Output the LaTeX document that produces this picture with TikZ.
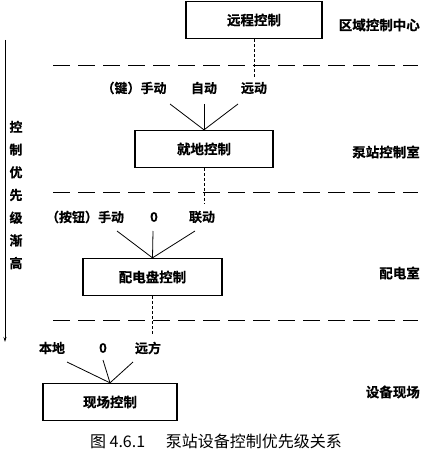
\documentclass[tikz,border=0pt]{standalone}
\usepackage{fontspec}
\setmainfont{Noto Sans CJK SC}
\newfontfamily\cjkbold{Noto Sans CJK SC Bold}[FakeBold=0.6]
\usetikzlibrary{arrows.meta}
\begin{document}
\begin{tikzpicture}[x=1pt,y=-1pt,
  ctrlbox/.style={draw,line width=1.3pt,minimum width=#1,minimum height=37pt,inner sep=0pt,font=\fontsize{13.5}{13}\selectfont\cjkbold},
  lbl/.style={inner sep=0pt,font=\fontsize{13}{13}\selectfont\cjkbold},
  roomlbl/.style={inner sep=0pt,font=\fontsize{13.5}{13}\selectfont\cjkbold},
  sep/.style={line width=0.9pt,dash pattern=on 17pt off 8pt},
  link/.style={line width=0.9pt,dash pattern=on 3pt off 2pt},
  leg/.style={line width=0.8pt}]
\useasboundingbox (0,0) rectangle (426,457);
% boxes
\node[ctrlbox=136pt] (b1) at (254,20) {远程控制};
\node[ctrlbox=138pt] (b2) at (204,149) {就地控制};
\node[ctrlbox=139pt] (b3) at (152.5,277) {配电盘控制};
\node[ctrlbox=134pt] (b4) at (110,402) {现场控制};
% room labels
\node[roomlbl,anchor=east] (r1) at (420,25) {区域控制中心};
\node[roomlbl,anchor=east] (r2) at (420,152) {泵站控制室};
\node[roomlbl,anchor=east] (r3) at (420,273) {配电室};
\node[roomlbl,anchor=east] (r4) at (420,392) {设备现场};
% separators
\coordinate (s1a) at (53,65); \coordinate (s1b) at (418,65);
\coordinate (s2a) at (53,192); \coordinate (s2b) at (418,192);
\coordinate (s3a) at (53,320); \coordinate (s3b) at (418,320);
\draw[sep] (s1a) -- (s1b);
\draw[sep] (s2a) -- (s2b);
\draw[sep] (s3a) -- (s3b);
% dotted links
\coordinate (d1) at (254,78);
\coordinate (d2) at (204,204);
\coordinate (d3) at (152.5,334);
\draw[link] (b1.south) -- (d1);
\draw[link] (b2.south) -- (d2);
\draw[link] (b3.south) -- (d3);
% switch labels level 2
\node[lbl] (k1) at (134,88) {（键）手动};
\node[lbl] (k2) at (204,88) {自动};
\node[lbl] (k3) at (254,88) {远动};
\draw[leg] (170,104) -- (b2.north);
\draw[leg] (204,104) -- (b2.north);
\draw[leg] (238,104) -- (b2.north);
% level 3
\node[lbl] (m1) at (85,217) {（按钮）手动};
\node[lbl] (m2) at (154,217) {0};
\node[lbl] (m3) at (202,217) {联动};
\draw[leg] (117,231) -- (b3.north);
\draw[leg] (153,231) -- (b3.north);
\draw[leg] (195,231) -- (b3.north);
% level 4
\node[lbl] (n1) at (52,348) {本地};
\node[lbl] (n2) at (103,348) {0};
\node[lbl] (n3) at (148,348) {远方};
\draw[leg] (67,362) -- (b4.north);
\draw[leg] (103,360) -- (b4.north);
\draw[leg] (133,362) -- (b4.north);
% priority arrow
\coordinate (pa) at (5,40);
\coordinate (pb) at (5,342);
\draw[line width=0.8pt,-{Stealth[length=5pt,width=3pt]}] (pa) -- (pb);
\node[inner sep=0pt,align=center,font=\fontsize{13}{22.7}\selectfont\cjkbold] (pt) at (16,195) {控\\制\\优\\先\\级\\渐\\高};
% caption
\node[inner sep=0pt,font=\fontsize{16}{16}\selectfont] (cap) at (216,441) {图 4.6.1\hspace{1.3em}泵站设备控制优先级关系};
\end{tikzpicture}
\end{document}
